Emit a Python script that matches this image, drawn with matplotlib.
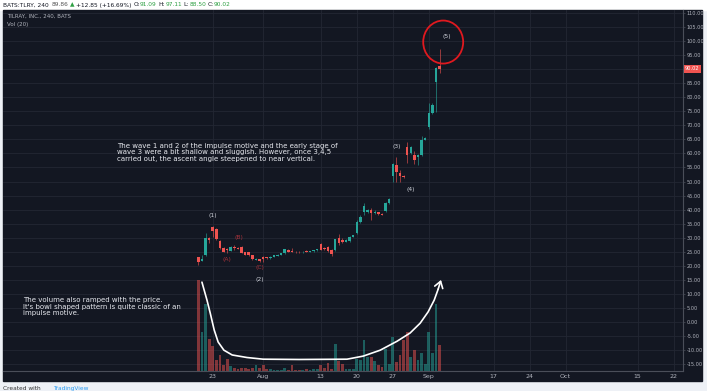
import numpy as np
import matplotlib
matplotlib.use("Agg")
import matplotlib.pyplot as plt
import matplotlib.transforms as mtransforms
from matplotlib.patches import Rectangle, Ellipse

# ---- data: TLRY 4h bars, 19 Jul - 5 Sep 2018 ----
o = [23.0, 21.8, 23.8, 29.8, 33.7, 33.0, 28.8, 26.4, 25.9, 25.4,
     26.6, 26.4, 26.8, 24.8, 24.8, 23.8, 22.2, 22.3, 23.2, 23.0,
     22.8, 23.1, 23.5, 23.9, 24.4, 25.6, 25.4, 25.1, 25.0, 24.8,
     25.3, 25.0, 25.2, 25.5, 27.6, 26.2, 26.6, 25.8, 25.5, 29.8,
     29.3, 28.6, 28.8, 30.3, 31.6, 35.6, 39.3, 39.0, 40.0, 38.8,
     39.0, 38.6, 39.6, 42.3, 51.8, 55.9, 52.9, 52.0, 62.4, 60.3,
     59.4, 58.6, 59.4, 64.8, 69.5, 74.4, 85.5, 91.09]
h = [23.3, 24.0, 31.8, 30.4, 34.2, 33.5, 29.3, 26.8, 26.3, 27.2,
     27.4, 26.6, 27.0, 25.0, 25.0, 24.0, 22.9, 22.5, 23.5, 23.2,
     23.4, 23.9, 24.1, 24.7, 26.1, 25.9, 26.3, 25.3, 25.2, 25.3,
     25.5, 25.4, 25.8, 26.1, 28.3, 26.6, 27.1, 26.1, 29.6, 31.5,
     30.0, 29.6, 30.6, 31.0, 36.3, 38.0, 42.4, 40.3, 40.5, 39.7,
     39.3, 38.8, 42.6, 44.2, 56.5, 58.8, 54.1, 52.3, 64.2, 62.8,
     60.9, 59.7, 66.2, 65.8, 77.8, 77.8, 90.9, 97.11]
l = [20.3, 21.6, 23.6, 28.0, 30.4, 29.2, 26.0, 24.8, 24.6, 25.2,
     25.8, 25.9, 24.5, 23.7, 23.6, 22.1, 22.0, 21.5, 21.5, 22.6,
     22.6, 23.0, 23.4, 23.8, 24.3, 25.0, 24.9, 24.6, 24.6, 24.7,
     24.9, 24.9, 25.1, 25.4, 25.6, 25.7, 24.9, 23.6, 25.3, 27.5,
     28.2, 28.4, 28.6, 30.2, 31.4, 35.3, 38.1, 38.8, 36.3, 38.5,
     38.2, 38.0, 39.0, 42.0, 49.9, 49.9, 49.9, 51.3, 56.5, 59.8,
     56.4, 55.9, 59.2, 64.6, 68.5, 74.0, 74.8, 88.50]
c = [21.5, 22.3, 29.8, 29.3, 32.5, 29.4, 26.3, 25.0, 25.6, 26.8,
     26.3, 26.1, 24.7, 23.9, 23.9, 22.3, 22.6, 21.8, 22.6, 22.8,
     23.2, 23.7, 23.9, 24.5, 25.9, 25.1, 25.0, 24.8, 24.8, 25.1,
     25.0, 25.3, 25.6, 25.9, 25.8, 26.0, 25.2, 24.2, 29.4, 28.2,
     28.6, 29.3, 30.4, 30.8, 35.5, 37.3, 41.2, 39.8, 38.8, 39.3,
     38.5, 38.2, 42.2, 43.7, 56.2, 53.5, 51.8, 51.5, 59.4, 62.4,
     57.7, 59.4, 64.8, 65.4, 74.3, 77.2, 90.3, 90.02]
# volume, millions
vol = [9.07, 3.9, 6.67, 3.23, 2.47, 1.07, 1.57, 0.57, 1.23, 0.47,
       0.33, 0.23, 0.33, 0.3, 0.23, 0.33, 0.57, 0.33, 0.57, 0.23,
       0.23, 0.13, 0.07, 0.13, 0.33, 0.13, 0.57, 0.13, 0.07, 0.07,
       0.17, 0.13, 0.17, 0.17, 0.57, 0.33, 0.8, 0.23, 2.67, 1.0,
       0.67, 0.23, 0.23, 0.23, 1.23, 1.13, 3.07, 1.4, 1.4, 1.0,
       0.57, 0.4, 2.23, 0.73, 3.4, 0.9, 1.57, 3.13, 3.9, 1.4,
       2.07, 1.07, 1.8, 0.73, 3.9, 1.8, 6.67, 2.57]

tick_pos = [4, 18, 34, 44, 54, 64, 82, 92, 102, 122, 132]
tick_labels = ['23', 'Aug', '13', '20', '27', 'Sep', '17', '24', 'Oct', '15', '22']
price_ticks = np.arange(-15, 111, 5)
last_close = 90.02

# wave labels (bar, price)
waves = [('(1)', 4.1, 37.8), ('(2)', 17.1, 15.3), ('(3)', 55.1, 62.4),
         ('(4)', 59.1, 47.3), ('(5)', 69.1, 101.4)]
abc = [('(A)', 8.05, 22.1), ('(B)', 11.2, 30.0), ('(C)', 17.05, 19.3)]

# hand drawn bowl over the volume
bowl_x = [1.0, 2.4, 3.3, 4.4, 5.5, 7.1, 9.4, 13.5, 18.0, 28.0, 41.3,
          45.8, 50.5, 55.2, 58.8, 61.6, 63.8, 65.5, 66.6, 67.2]
bowl_y = [14.2, 7.8, 3.2, -2.8, -7.1, -10.0, -11.7, -12.6, -13.2, -13.3, -13.2,
          -12.1, -10.0, -6.8, -3.9, -0.4, 3.6, 7.8, 11.7, 14.0]

UP = '#26a69a'
DOWN = '#ef5350'
BG = '#131722'
GRID = '#232733'
TXT = '#b2b5be'

W, H = 707, 391
fig = plt.figure(figsize=(W / 100, H / 100), dpi=100)
fig.patch.set_facecolor('#eef1f6')
fig.add_artist(Rectangle((0, 1 - 10 / H), 1, 10 / H, transform=fig.transFigure,
                         color='white', zorder=-2))
fig.add_artist(Rectangle((3 / W, (H - 381) / H), (702 - 3) / W, (381 - 10) / H,
                         transform=fig.transFigure, color=BG, zorder=-1))

ax = fig.add_axes([3 / W, (H - 371) / H, (683 - 3) / W, (371 - 10) / H])
ax.set_facecolor(BG)

x = np.arange(len(o))
o, h, l, c = map(np.array, (o, h, l, c))
col = np.where(c >= o, UP, DOWN)

# volume overlay, own vertical scale
vtop = 36.1
vtrans = mtransforms.Affine2D().scale(1, 1 / vtop) + ax.get_xaxis_transform()
ax.bar(x, vol, width=0.8, color=col, alpha=0.5, linewidth=0, transform=vtrans, zorder=2)

# candles
ax.vlines(x, l, h, colors=col, lw=0.7, alpha=0.6, zorder=3)
ax.bar(x, np.maximum(np.abs(c - o), 0.2), bottom=np.minimum(o, c), width=0.7,
       color=col, linewidth=0, zorder=4)

ax.set_xlim(-54.25, 134.6)
ax.set_ylim(-17.4, 111.0)

ax.set_yticks(price_ticks)
ax.set_yticklabels(['' if v == 90 else f'{v:.2f}' for v in price_ticks])
ax.yaxis.tick_right()
ax.set_xticks(tick_pos)
ax.set_xticklabels(tick_labels)
ax.tick_params(axis='y', colors='#4a4e59', labelcolor=TXT, labelsize=3.6, length=1.5, pad=1.2, width=0.5)
ax.tick_params(axis='x', colors=TXT, labelsize=4.5, length=0, pad=2.5)
ax.grid(True, color=GRID, lw=0.6)
ax.set_axisbelow(True)
for s in ['top', 'left']:
    ax.spines[s].set_visible(False)
for s in ['right', 'bottom']:
    ax.spines[s].set_color('#4a4e59')
    ax.spines[s].set_linewidth(0.8)

# last price tag
ax.text(1.003, last_close, f'{last_close:.2f}', transform=mtransforms.blended_transform_factory(ax.transAxes, ax.transData),
        ha='left', va='center', fontsize=3.6, color='white',
        bbox=dict(boxstyle='square,pad=0.3', fc=DOWN, ec='none'))

# wave labels
for s, bx, py in waves:
    ax.text(bx, py, s, color='#d1d4dc', fontsize=4.3, ha='center', va='center', zorder=5)
for s, bx, py in abc:
    ax.text(bx, py, s, color='#a8323a', fontsize=4.3, ha='center', va='center', zorder=5)

ax.add_patch(Ellipse((68.0, 99.6), 11.1, 15.3, fill=False, ec='#e0191f', lw=1.3, zorder=6))

ax.plot(bowl_x[:-1], bowl_y[:-1], color='white', lw=1.2, zorder=6, solid_capstyle='round')
ax.annotate('', xy=(67.4, 15.0), xytext=(bowl_x[-2], bowl_y[-2]),
            arrowprops=dict(arrowstyle='->,head_length=0.45,head_width=0.3', color='white', lw=1.2,
                            shrinkA=0, shrinkB=0), zorder=6)

ax.text(-22.6, 63.8, "The wave 1 and 2 of the impulse motive and the early stage of\n"
        "wave 3 were a bit shallow and sluggish. However, once 3,4,5\n"
        "carried out, the ascent angle steepened to near vertical.",
        color='#e6e8ee', fontsize=5.0, linespacing=1.15, ha='left', va='top', zorder=7)
ax.text(-48.7, 8.8, "The volume also ramped with the price.\n"
        "It's bowl shaped pattern is quite classic of an\n"
        "impulse motive.",
        color='#e6e8ee', fontsize=5.0, linespacing=1.1, ha='left', va='top', zorder=7)

# panel legend
fig.text(7 / W, 1 - 16.5 / H, 'TILRAY, INC., 240, BATS', color=TXT, fontsize=4.0, va='center')
fig.text(7 / W, 1 - 24.5 / H, 'Vol (20)', color=TXT, fontsize=4.0, va='center')

# header and footer strings made of coloured pieces
renderer = fig.canvas.get_renderer()


def chain(pieces, x0, y0, size):
    xp = x0
    for s, color, gap in pieces:
        t = fig.text(xp / W, 1 - y0 / H, s, color=color, fontsize=size, va='center', ha='left')
        xp += t.get_window_extent(renderer).width + gap


G = '#2ea043'
D = '#131722'
chain([('BATS:TLRY, 240', D, 3), ('89.86', '#555', 1.5), ('\u25b2', G, 1.5), ('+12.85 (+16.69%)', D, 2),
       ('O:', D, 0), ('91.09', G, 2), ('H:', D, 0), ('97.11', G, 2), ('L:', D, 0), ('88.50', G, 2),
       ('C:', D, 0), ('90.02', G, 0)], 3, 5, 4.2)
chain([('Created with', '#333', 12), ('TradingView', '#2a9df4', 0)], 3, 388.5, 4.2)

fig.savefig('out.png', dpi=100, facecolor=fig.get_facecolor())
